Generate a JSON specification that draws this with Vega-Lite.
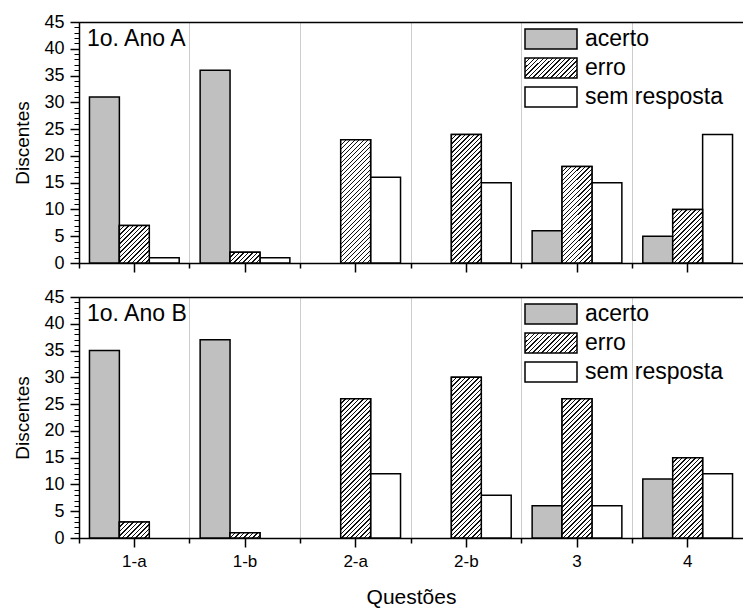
{
  "$schema": "https://vega.github.io/schema/vega-lite/v6.json",
  "autosize": {"type": "pad"},
  "padding": {"left": 13, "top": 13, "right": 0, "bottom": 2},
  "background": "white",
  "params": [
    {"name": "hatch", "value": [
      {"offset":0,"color":"#111"},{"offset":0.006,"color":"#111"},{"offset":0.006,"color":"#fff"},{"offset":0.02,"color":"#fff"},
      {"offset":0.02,"color":"#111"},{"offset":0.026,"color":"#111"},{"offset":0.026,"color":"#fff"},{"offset":0.04,"color":"#fff"},
      {"offset":0.04,"color":"#111"},{"offset":0.046,"color":"#111"},{"offset":0.046,"color":"#fff"},{"offset":0.06,"color":"#fff"},
      {"offset":0.06,"color":"#111"},{"offset":0.066,"color":"#111"},{"offset":0.066,"color":"#fff"},{"offset":0.08,"color":"#fff"},
      {"offset":0.08,"color":"#111"},{"offset":0.086,"color":"#111"},{"offset":0.086,"color":"#fff"},{"offset":0.1,"color":"#fff"},
      {"offset":0.1,"color":"#111"},{"offset":0.106,"color":"#111"},{"offset":0.106,"color":"#fff"},{"offset":0.12,"color":"#fff"},
      {"offset":0.12,"color":"#111"},{"offset":0.126,"color":"#111"},{"offset":0.126,"color":"#fff"},{"offset":0.14,"color":"#fff"},
      {"offset":0.14,"color":"#111"},{"offset":0.146,"color":"#111"},{"offset":0.146,"color":"#fff"},{"offset":0.16,"color":"#fff"},
      {"offset":0.16,"color":"#111"},{"offset":0.166,"color":"#111"},{"offset":0.166,"color":"#fff"},{"offset":0.18,"color":"#fff"},
      {"offset":0.18,"color":"#111"},{"offset":0.186,"color":"#111"},{"offset":0.186,"color":"#fff"},{"offset":0.2,"color":"#fff"},
      {"offset":0.2,"color":"#111"},{"offset":0.206,"color":"#111"},{"offset":0.206,"color":"#fff"},{"offset":0.22,"color":"#fff"},
      {"offset":0.22,"color":"#111"},{"offset":0.226,"color":"#111"},{"offset":0.226,"color":"#fff"},{"offset":0.24,"color":"#fff"},
      {"offset":0.24,"color":"#111"},{"offset":0.246,"color":"#111"},{"offset":0.246,"color":"#fff"},{"offset":0.26,"color":"#fff"},
      {"offset":0.26,"color":"#111"},{"offset":0.266,"color":"#111"},{"offset":0.266,"color":"#fff"},{"offset":0.28,"color":"#fff"},
      {"offset":0.28,"color":"#111"},{"offset":0.286,"color":"#111"},{"offset":0.286,"color":"#fff"},{"offset":0.3,"color":"#fff"},
      {"offset":0.3,"color":"#111"},{"offset":0.306,"color":"#111"},{"offset":0.306,"color":"#fff"},{"offset":0.32,"color":"#fff"},
      {"offset":0.32,"color":"#111"},{"offset":0.326,"color":"#111"},{"offset":0.326,"color":"#fff"},{"offset":0.34,"color":"#fff"},
      {"offset":0.34,"color":"#111"},{"offset":0.346,"color":"#111"},{"offset":0.346,"color":"#fff"},{"offset":0.36,"color":"#fff"},
      {"offset":0.36,"color":"#111"},{"offset":0.366,"color":"#111"},{"offset":0.366,"color":"#fff"},{"offset":0.38,"color":"#fff"},
      {"offset":0.38,"color":"#111"},{"offset":0.386,"color":"#111"},{"offset":0.386,"color":"#fff"},{"offset":0.4,"color":"#fff"},
      {"offset":0.4,"color":"#111"},{"offset":0.406,"color":"#111"},{"offset":0.406,"color":"#fff"},{"offset":0.42,"color":"#fff"},
      {"offset":0.42,"color":"#111"},{"offset":0.426,"color":"#111"},{"offset":0.426,"color":"#fff"},{"offset":0.44,"color":"#fff"},
      {"offset":0.44,"color":"#111"},{"offset":0.446,"color":"#111"},{"offset":0.446,"color":"#fff"},{"offset":0.46,"color":"#fff"},
      {"offset":0.46,"color":"#111"},{"offset":0.466,"color":"#111"},{"offset":0.466,"color":"#fff"},{"offset":0.48,"color":"#fff"},
      {"offset":0.48,"color":"#111"},{"offset":0.486,"color":"#111"},{"offset":0.486,"color":"#fff"},{"offset":0.5,"color":"#fff"},
      {"offset":0.5,"color":"#111"},{"offset":0.506,"color":"#111"},{"offset":0.506,"color":"#fff"},{"offset":0.52,"color":"#fff"},
      {"offset":0.52,"color":"#111"},{"offset":0.526,"color":"#111"},{"offset":0.526,"color":"#fff"},{"offset":0.54,"color":"#fff"},
      {"offset":0.54,"color":"#111"},{"offset":0.546,"color":"#111"},{"offset":0.546,"color":"#fff"},{"offset":0.56,"color":"#fff"},
      {"offset":0.56,"color":"#111"},{"offset":0.566,"color":"#111"},{"offset":0.566,"color":"#fff"},{"offset":0.58,"color":"#fff"},
      {"offset":0.58,"color":"#111"},{"offset":0.586,"color":"#111"},{"offset":0.586,"color":"#fff"},{"offset":0.6,"color":"#fff"},
      {"offset":0.6,"color":"#111"},{"offset":0.606,"color":"#111"},{"offset":0.606,"color":"#fff"},{"offset":0.62,"color":"#fff"},
      {"offset":0.62,"color":"#111"},{"offset":0.626,"color":"#111"},{"offset":0.626,"color":"#fff"},{"offset":0.64,"color":"#fff"},
      {"offset":0.64,"color":"#111"},{"offset":0.646,"color":"#111"},{"offset":0.646,"color":"#fff"},{"offset":0.66,"color":"#fff"},
      {"offset":0.66,"color":"#111"},{"offset":0.666,"color":"#111"},{"offset":0.666,"color":"#fff"},{"offset":0.68,"color":"#fff"},
      {"offset":0.68,"color":"#111"},{"offset":0.686,"color":"#111"},{"offset":0.686,"color":"#fff"},{"offset":0.7,"color":"#fff"},
      {"offset":0.7,"color":"#111"},{"offset":0.706,"color":"#111"},{"offset":0.706,"color":"#fff"},{"offset":0.72,"color":"#fff"},
      {"offset":0.72,"color":"#111"},{"offset":0.726,"color":"#111"},{"offset":0.726,"color":"#fff"},{"offset":0.74,"color":"#fff"},
      {"offset":0.74,"color":"#111"},{"offset":0.746,"color":"#111"},{"offset":0.746,"color":"#fff"},{"offset":0.76,"color":"#fff"},
      {"offset":0.76,"color":"#111"},{"offset":0.766,"color":"#111"},{"offset":0.766,"color":"#fff"},{"offset":0.78,"color":"#fff"},
      {"offset":0.78,"color":"#111"},{"offset":0.786,"color":"#111"},{"offset":0.786,"color":"#fff"},{"offset":0.8,"color":"#fff"},
      {"offset":0.8,"color":"#111"},{"offset":0.806,"color":"#111"},{"offset":0.806,"color":"#fff"},{"offset":0.82,"color":"#fff"},
      {"offset":0.82,"color":"#111"},{"offset":0.826,"color":"#111"},{"offset":0.826,"color":"#fff"},{"offset":0.84,"color":"#fff"},
      {"offset":0.84,"color":"#111"},{"offset":0.846,"color":"#111"},{"offset":0.846,"color":"#fff"},{"offset":0.86,"color":"#fff"},
      {"offset":0.86,"color":"#111"},{"offset":0.866,"color":"#111"},{"offset":0.866,"color":"#fff"},{"offset":0.88,"color":"#fff"}
    ]}
  ],
  "data": {"values": [
    {"panel": "A", "q": "1-a", "tipo": "acerto", "v": 31},
    {"panel": "A", "q": "1-a", "tipo": "erro", "v": 7},
    {"panel": "A", "q": "1-a", "tipo": "sem resposta", "v": 1},
    {"panel": "A", "q": "1-b", "tipo": "acerto", "v": 36},
    {"panel": "A", "q": "1-b", "tipo": "erro", "v": 2},
    {"panel": "A", "q": "1-b", "tipo": "sem resposta", "v": 1},
    {"panel": "A", "q": "2-a", "tipo": "acerto", "v": 0},
    {"panel": "A", "q": "2-a", "tipo": "erro", "v": 23},
    {"panel": "A", "q": "2-a", "tipo": "sem resposta", "v": 16},
    {"panel": "A", "q": "2-b", "tipo": "acerto", "v": 0},
    {"panel": "A", "q": "2-b", "tipo": "erro", "v": 24},
    {"panel": "A", "q": "2-b", "tipo": "sem resposta", "v": 15},
    {"panel": "A", "q": "3", "tipo": "acerto", "v": 6},
    {"panel": "A", "q": "3", "tipo": "erro", "v": 18},
    {"panel": "A", "q": "3", "tipo": "sem resposta", "v": 15},
    {"panel": "A", "q": "4", "tipo": "acerto", "v": 5},
    {"panel": "A", "q": "4", "tipo": "erro", "v": 10},
    {"panel": "A", "q": "4", "tipo": "sem resposta", "v": 24},
    {"panel": "B", "q": "1-a", "tipo": "acerto", "v": 35},
    {"panel": "B", "q": "1-a", "tipo": "erro", "v": 3},
    {"panel": "B", "q": "1-a", "tipo": "sem resposta", "v": 0},
    {"panel": "B", "q": "1-b", "tipo": "acerto", "v": 37},
    {"panel": "B", "q": "1-b", "tipo": "erro", "v": 1},
    {"panel": "B", "q": "1-b", "tipo": "sem resposta", "v": 0},
    {"panel": "B", "q": "2-a", "tipo": "acerto", "v": 0},
    {"panel": "B", "q": "2-a", "tipo": "erro", "v": 26},
    {"panel": "B", "q": "2-a", "tipo": "sem resposta", "v": 12},
    {"panel": "B", "q": "2-b", "tipo": "acerto", "v": 0},
    {"panel": "B", "q": "2-b", "tipo": "erro", "v": 30},
    {"panel": "B", "q": "2-b", "tipo": "sem resposta", "v": 8},
    {"panel": "B", "q": "3", "tipo": "acerto", "v": 6},
    {"panel": "B", "q": "3", "tipo": "erro", "v": 26},
    {"panel": "B", "q": "3", "tipo": "sem resposta", "v": 6},
    {"panel": "B", "q": "4", "tipo": "acerto", "v": 11},
    {"panel": "B", "q": "4", "tipo": "erro", "v": 15},
    {"panel": "B", "q": "4", "tipo": "sem resposta", "v": 12}
  ]},
  "config": {
    "font": "Liberation Sans",
    "view": {"stroke": null},
    "concat": {"spacing": 15},
    "axis": {"labelColor": "black", "titleColor": "black", "tickColor": "black", "domainColor": "black", "titleFontWeight": "normal", "labelFont": "Liberation Sans", "titleFont": "Liberation Sans"},
    "title": {"font": "Liberation Sans", "fontWeight": "normal", "color": "black"}
  },
  "resolve": {"scale": {"fill": "independent"}, "legend": {"fill": "independent"}},
  "vconcat": [
    {
      "width": 664, "height": 241,
      "title": {"text": "1o. Ano A", "anchor": "start", "frame": "group", "offset": -38, "dx": 8, "fontSize": 23},
      "transform": [{"filter": "datum.panel === 'A' && datum.v > 0"}],
      "resolve": {"axis": {"x": "independent", "y": "independent"}},
      "layer": [
        {
          "mark": {"type": "bar", "stroke": "black", "strokeWidth": 1.5},
          "encoding": {
            "x": {"field": "q", "type": "nominal", "sort": ["1-a","1-b","2-a","2-b","3","4"], "scale": {"paddingInner": 0, "paddingOuter": 0},
              "axis": {"orient": "bottom", "labels": false, "title": null, "tickSize": 9, "tickWidth": 1.5, "domainWidth": 1.5, "grid": false}},
            "xOffset": {"field": "tipo", "type": "nominal", "scale": {"domain": ["acerto","erro","sem resposta"], "paddingInner": 0, "paddingOuter": 0.35}},
            "y": {"field": "v", "type": "quantitative", "scale": {"domain": [0, 45], "nice": false},
              "axis": {"orient": "left", "values": [0,5,10,15,20,25,30,35,40,45], "tickSize": 9, "tickWidth": 1.5, "domainWidth": 1.5, "grid": false, "labelFontSize": 18, "labelPadding": 6, "title": "Discentes", "titleFontSize": 19, "titlePadding": 11}},
            "fill": {"field": "tipo", "type": "nominal", "scale": {"domain": ["acerto","erro","sem resposta"], "range": ["#c0c0c0", {"expr": "{gradient:'linear',x1:0,y1:0,x2:3.769,y2:1.4497,stops:hatch}"}, "#ffffff"]},
              "legend": {"title": null, "orient": "none", "legendX": 458, "legendY": 3, "padding": 0, "symbolType": "M-2,-0.769H2V0.769H-2Z", "symbolSize": 676, "symbolStrokeWidth": 1.5, "symbolStrokeColor": "black", "symbolOpacity": 1, "labelFontSize": 23, "labelColor": "black", "labelOffset": 20, "rowPadding": 2}}
          }
        },
        {
          "transform": [{"filter": "datum.tipo === 'erro'"}],
          "mark": {"type": "bar", "stroke": "black", "strokeWidth": 1.5, "fill": {"expr": "{gradient:'linear',x1:0,y1:0,x2:225*29.9/(894+pow(datum.v*5.3556,2)),y2:225*datum.v*5.3556/(894+pow(datum.v*5.3556,2)),stops:hatch}"}},
          "encoding": {
            "x": {"field": "q", "type": "nominal", "sort": ["1-a","1-b","2-a","2-b","3","4"],
              "axis": {"orient": "bottom", "bandPosition": 0, "grid": true, "gridColor": "#cccccc", "gridWidth": 1, "labels": false, "domain": false, "tickSize": 5, "tickWidth": 1.5, "title": null}},
            "xOffset": {"field": "tipo", "type": "nominal"},
            "y": {"field": "v", "type": "quantitative",
              "axis": {"orient": "left", "values": [0,1,2,3,4,5,6,7,8,9,10,11,12,13,14,15,16,17,18,19,20,21,22,23,24,25,26,27,28,29,30,31,32,33,34,35,36,37,38,39,40,41,42,43,44,45], "labels": false, "domain": false, "grid": false, "tickSize": 5, "tickWidth": 1, "title": null}}
          }
        },
        {
          "mark": {"type": "bar", "fillOpacity": 0, "strokeOpacity": 0},
          "encoding": {
            "x": {"field": "q", "type": "nominal", "sort": ["1-a","1-b","2-a","2-b","3","4"],
              "axis": {"orient": "top", "labels": false, "ticks": false, "domain": true, "domainWidth": 1.5, "grid": false, "title": null}},
            "y": {"field": "v", "type": "quantitative", "axis": null}
          }
        }
      ]
    },
    {
      "width": 664, "height": 241,
      "title": {"text": "1o. Ano B", "anchor": "start", "frame": "group", "offset": -38, "dx": 8, "fontSize": 23},
      "transform": [{"filter": "datum.panel === 'B' && datum.v > 0"}],
      "resolve": {"axis": {"x": "independent", "y": "independent"}},
      "layer": [
        {
          "mark": {"type": "bar", "stroke": "black", "strokeWidth": 1.5},
          "encoding": {
            "x": {"field": "q", "type": "nominal", "sort": ["1-a","1-b","2-a","2-b","3","4"], "scale": {"paddingInner": 0, "paddingOuter": 0},
              "axis": {"orient": "bottom", "labels": true, "labelAngle": 0, "labelFontSize": 17, "labelPadding": 6, "title": "Questões", "titleFontSize": 21, "titlePadding": 17, "tickSize": 9, "tickWidth": 1.5, "domainWidth": 1.5, "grid": false}},
            "xOffset": {"field": "tipo", "type": "nominal", "scale": {"domain": ["acerto","erro","sem resposta"], "paddingInner": 0, "paddingOuter": 0.35}},
            "y": {"field": "v", "type": "quantitative", "scale": {"domain": [0, 45], "nice": false},
              "axis": {"orient": "left", "values": [0,5,10,15,20,25,30,35,40,45], "tickSize": 9, "tickWidth": 1.5, "domainWidth": 1.5, "grid": false, "labelFontSize": 18, "labelPadding": 6, "title": "Discentes", "titleFontSize": 19, "titlePadding": 11}},
            "fill": {"field": "tipo", "type": "nominal", "scale": {"domain": ["acerto","erro","sem resposta"], "range": ["#c0c0c0", {"expr": "{gradient:'linear',x1:0,y1:0,x2:3.769,y2:1.4497,stops:hatch}"}, "#ffffff"]},
              "legend": {"title": null, "orient": "none", "legendX": 458, "legendY": 3, "padding": 0, "symbolType": "M-2,-0.769H2V0.769H-2Z", "symbolSize": 676, "symbolStrokeWidth": 1.5, "symbolStrokeColor": "black", "symbolOpacity": 1, "labelFontSize": 23, "labelColor": "black", "labelOffset": 20, "rowPadding": 2}}
          }
        },
        {
          "transform": [{"filter": "datum.tipo === 'erro'"}],
          "mark": {"type": "bar", "stroke": "black", "strokeWidth": 1.5, "fill": {"expr": "{gradient:'linear',x1:0,y1:0,x2:225*29.9/(894+pow(datum.v*5.3556,2)),y2:225*datum.v*5.3556/(894+pow(datum.v*5.3556,2)),stops:hatch}"}},
          "encoding": {
            "x": {"field": "q", "type": "nominal", "sort": ["1-a","1-b","2-a","2-b","3","4"],
              "axis": {"orient": "bottom", "bandPosition": 0, "grid": true, "gridColor": "#cccccc", "gridWidth": 1, "labels": false, "domain": false, "tickSize": 5, "tickWidth": 1.5, "title": null}},
            "xOffset": {"field": "tipo", "type": "nominal"},
            "y": {"field": "v", "type": "quantitative",
              "axis": {"orient": "left", "values": [0,1,2,3,4,5,6,7,8,9,10,11,12,13,14,15,16,17,18,19,20,21,22,23,24,25,26,27,28,29,30,31,32,33,34,35,36,37,38,39,40,41,42,43,44,45], "labels": false, "domain": false, "grid": false, "tickSize": 5, "tickWidth": 1, "title": null}}
          }
        },
        {
          "mark": {"type": "bar", "fillOpacity": 0, "strokeOpacity": 0},
          "encoding": {
            "x": {"field": "q", "type": "nominal", "sort": ["1-a","1-b","2-a","2-b","3","4"],
              "axis": {"orient": "top", "labels": false, "ticks": false, "domain": true, "domainWidth": 1.5, "grid": false, "title": null}},
            "y": {"field": "v", "type": "quantitative", "axis": null}
          }
        }
      ]
    }
  ]
}
